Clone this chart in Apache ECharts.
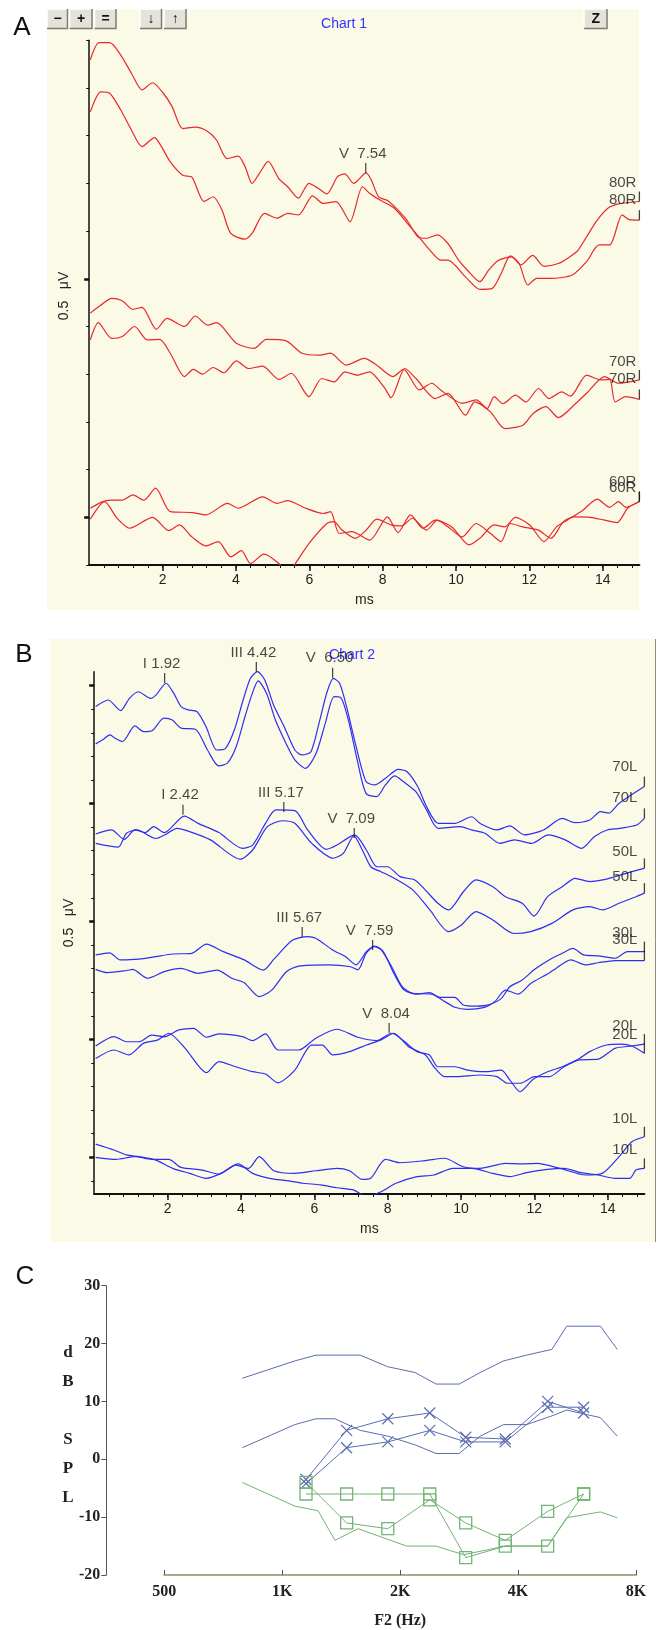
<!DOCTYPE html>
<html><head><meta charset="utf-8">
<script src="https://cdn.jsdelivr.net/npm/echarts@6/dist/echarts.min.js"></script>
<style>html,body{margin:0;padding:0;background:#fff;}#c{width:657px;height:1630px;}</style>
</head><body><div id="c"></div>
<script>
// ---------- Panel A : ABR right ear (ms, amplitude in 0.1 µV tick units) ----------
const A80R_1 = [[0.03,9.59],[0.27,9.95],[0.56,9.95],[0.86,9.69],[1.15,9.31],[1.44,8.96],[1.73,9.11],[2.02,8.89],[2.26,8.61],[2.55,8.15],[2.89,8.18],[3.23,8.09],[3.47,7.91],[3.76,7.52],[4.06,7.57],[4.25,7.35],[4.44,7.00],[4.64,7.21],[4.88,7.46],[5.17,7.10],[5.41,6.93],[5.70,6.69],[5.99,7.00],[6.24,6.90],[6.48,6.78],[6.77,7.14],[6.97,7.20],[7.21,7.00],[7.55,7.22],[7.69,7.07],[7.89,6.72],[8.13,6.64],[8.42,6.44],[8.66,6.23],[8.96,5.88],[9.20,5.85],[9.49,5.92],[9.78,5.74],[10.07,5.39],[10.31,5.18],[10.65,4.94],[10.89,5.18],[11.14,5.38],[11.52,5.46],[11.77,5.29],[12.09,5.49],[12.40,5.26],[12.79,5.32],[13.08,5.45],[13.32,5.59],[13.56,5.88],[13.85,6.23],[14.14,6.48],[14.43,6.57],[14.73,6.60],[15.00,6.62]];
const A80R_2 = [[0.03,8.50],[0.32,8.92],[0.56,8.89],[0.86,8.54],[1.15,8.12],[1.44,7.77],[1.78,7.96],[1.97,7.77],[2.21,7.45],[2.55,7.17],[2.80,7.13],[3.13,6.62],[3.38,6.72],[3.62,6.44],[3.86,5.95],[4.25,5.83],[4.44,5.95],[4.78,6.37],[5.12,6.27],[5.41,6.37],[5.71,6.34],[6.09,6.74],[6.38,6.58],[6.73,6.62],[7.11,6.20],[7.45,6.93],[7.65,6.79],[7.93,6.65],[8.32,6.48],[8.71,6.13],[9.00,5.87],[9.29,5.60],[9.58,5.39],[9.78,5.39],[10.26,5.04],[10.65,4.78],[10.99,4.80],[11.23,5.11],[11.48,5.48],[11.72,5.32],[11.96,4.87],[12.20,5.01],[12.59,5.01],[13.17,5.08],[13.56,5.36],[13.90,5.71],[14.19,5.71],[14.53,6.34],[14.72,6.24],[15.00,6.23]];
const A70R_1 = [[0.03,4.28],[0.32,4.45],[0.61,4.59],[0.90,4.54],[1.19,4.36],[1.44,4.40],[1.83,3.94],[2.12,4.17],[2.60,4.00],[2.89,4.22],[3.23,4.03],[3.47,4.08],[4.01,3.65],[4.49,3.54],[4.83,3.73],[5.37,3.70],[5.80,3.44],[6.29,3.40],[6.58,3.44],[7.00,3.19],[7.50,3.33],[7.84,3.19],[8.28,2.95],[8.57,3.10],[9.00,2.67],[9.34,2.81],[9.58,2.67],[10.17,2.39],[10.55,2.46],[10.85,2.28],[11.04,2.53],[11.28,2.38],[11.62,2.56],[11.91,2.42],[12.25,2.70],[12.54,2.49],[12.88,2.63],[13.12,2.54],[13.56,2.98],[13.95,2.88],[14.19,2.89],[14.34,2.42],[14.63,2.53],[15.00,2.47]];
const A70R_2 = [[0.03,3.72],[0.25,4.08],[0.61,3.75],[0.90,3.79],[1.24,4.00],[1.58,3.72],[1.92,3.73],[2.21,3.44],[2.60,2.95],[2.84,3.10],[3.09,3.00],[3.38,3.14],[3.67,3.03],[4.01,3.28],[4.35,3.12],[4.73,3.17],[5.17,2.89],[5.51,3.02],[5.99,2.53],[6.34,2.91],[6.68,2.84],[6.97,3.05],[7.31,2.98],[7.64,3.05],[8.03,2.74],[8.23,2.51],[8.61,3.12],[8.91,2.91],[9.44,2.49],[9.78,2.60],[10.26,2.14],[10.51,2.42],[10.94,2.21],[11.33,1.86],[11.82,1.93],[12.11,2.18],[12.45,2.32],[12.79,2.09],[13.27,2.39],[13.56,2.60],[14.05,2.95],[14.43,2.81],[15.00,2.88]];
const A60R_1 = [[0.03,0.19],[0.37,0.33],[0.66,0.36],[0.90,0.36],[1.19,0.47],[1.49,0.36],[1.81,0.61],[2.21,0.12],[2.80,0.10],[3.18,0.05],[3.77,0.29],[4.06,0.19],[4.73,0.43],[5.12,0.29],[5.41,0.35],[5.90,0.19],[6.38,0.08],[6.58,0.12],[6.82,-0.34],[7.16,-0.30],[7.65,-0.48],[8.13,0.01],[8.42,-0.32],[8.76,0.05],[9.10,-0.23],[9.44,-0.06],[9.88,-0.20],[10.36,-0.58],[10.65,-0.44],[11.04,-0.16],[11.33,-0.20],[11.62,0.00],[12.01,-0.16],[12.40,-0.51],[12.74,-0.20],[13.03,-0.06],[13.46,0.15],[13.85,0.38],[14.19,0.21],[14.43,0.33],[14.63,0.21],[15.00,0.33]];
const A60R_2 = [[0.03,-0.04],[0.42,0.33],[0.76,-0.02],[1.10,-0.23],[1.73,0.00],[2.17,-0.28],[2.46,-0.16],[2.80,-0.41],[3.18,-0.60],[3.52,-0.51],[3.86,-0.83],[4.15,-0.70],[4.40,-0.97],[4.76,-0.77],[5.17,-0.97],[5.40,-1.20],[5.62,-0.97],[5.99,-0.55],[6.48,-0.13],[6.68,-0.09],[6.87,-0.25],[7.26,-0.44],[7.55,-0.27],[7.84,-0.04],[8.23,-0.16],[8.52,-0.18],[8.81,-0.02],[9.20,-0.27],[9.49,-0.06],[9.78,-0.20],[10.17,-0.41],[10.55,-0.13],[10.94,-0.34],[11.23,-0.51],[11.48,-0.13],[11.82,-0.20],[12.25,-0.27],[12.59,-0.44],[12.93,-0.09],[13.22,0.01],[13.66,0.00],[14.05,-0.06],[14.39,-0.11],[14.68,0.19],[15.00,0.33]];
const A_traceLabels = [['80R',7.01],['80R',6.65],['70R',3.26],['70R',2.91],['60R',0.75],['60R',0.61]];
const A_peaks = [['V  7.54',7.54,7.22]];

// ---------- Panel B : ABR left ear ----------
const B70L_1 = [[0.04,19.11],[0.38,19.39],[0.72,18.94],[0.96,19.46],[1.20,19.74],[1.54,19.46],[1.69,19.61],[1.96,20.10],[2.17,19.67],[2.37,19.11],[2.56,18.97],[2.80,18.90],[3.05,18.26],[3.34,17.27],[3.58,17.34],[3.82,18.12],[4.06,19.39],[4.26,20.31],[4.45,20.59],[4.65,20.24],[4.89,19.18],[5.18,18.26],[5.47,17.27],[5.67,17.06],[5.91,17.20],[6.15,18.54],[6.35,19.74],[6.52,20.31],[6.69,20.10],[6.88,19.11],[7.12,17.55],[7.41,15.93],[7.65,15.79],[7.94,16.07],[8.29,16.45],[8.53,16.35],[8.82,15.72],[9.06,14.87],[9.38,14.16],[9.83,14.16],[10.29,14.44],[10.52,14.16],[10.98,13.88],[11.33,14.05],[11.73,13.67],[12.25,13.88],[12.76,14.37],[13.11,14.19],[13.51,14.30],[13.80,14.66],[14.03,14.59],[14.31,15.01],[15.00,15.72]];
const B70L_2 = [[0.04,17.53],[0.23,17.70],[0.43,17.91],[0.57,17.77],[0.77,17.63],[1.11,18.29],[1.35,18.05],[1.59,18.10],[1.90,18.62],[2.12,18.55],[2.37,18.20],[2.76,18.15],[3.09,17.27],[3.39,16.60],[3.63,16.71],[3.87,17.41],[4.11,18.68],[4.31,19.67],[4.47,20.20],[4.70,19.67],[4.94,18.54],[5.23,17.55],[5.47,16.85],[5.76,16.49],[6.05,17.13],[6.30,18.40],[6.54,19.53],[6.71,19.51],[6.93,18.54],[7.17,16.85],[7.41,15.43],[7.70,15.29],[7.94,15.79],[8.19,16.17],[8.43,15.93],[8.77,15.50],[9.06,14.73],[9.38,13.95],[9.98,14.02],[10.29,13.88],[10.65,13.74],[11.06,13.31],[11.46,13.46],[11.92,13.31],[12.38,13.67],[12.84,13.46],[13.29,13.10],[13.64,13.60],[13.98,13.88],[14.33,13.95],[14.79,14.09],[15.00,14.37]];
const B50L_1 = [[0.04,13.71],[0.47,13.88],[0.82,13.48],[1.11,13.88],[1.39,13.77],[1.62,14.02],[1.91,13.77],[2.46,14.47],[2.83,14.16],[3.40,13.77],[4.04,13.10],[4.32,13.24],[4.67,14.16],[4.95,14.73],[5.47,14.70],[5.82,13.88],[6.33,13.06],[6.62,13.24],[7.10,13.67],[7.42,13.03],[7.71,12.32],[8.00,12.32],[8.34,11.90],[8.74,11.76],[9.03,11.33],[9.37,10.77],[9.66,10.49],[10.07,11.27],[10.41,11.76],[10.87,11.47],[11.21,11.05],[11.67,10.77],[11.99,10.23],[12.36,11.05],[12.76,11.47],[13.11,11.83],[13.51,11.69],[13.86,11.76],[14.20,11.90],[14.66,12.11],[15.00,12.25]];
const B50L_2 = [[0.04,13.31],[0.65,13.15],[0.88,13.74],[1.16,13.88],[1.68,13.52],[1.97,13.71],[2.25,13.95],[2.60,13.81],[3.17,13.46],[3.98,12.64],[4.32,13.03],[4.72,14.02],[5.13,14.27],[5.47,14.16],[5.93,13.31],[6.51,12.68],[6.79,12.89],[7.08,13.63],[7.31,13.03],[7.54,12.32],[7.82,12.11],[8.23,11.79],[8.69,11.33],[9.15,10.49],[9.66,9.57],[10.01,9.85],[10.41,10.42],[10.87,10.06],[11.44,9.49],[11.90,9.57],[12.48,9.92],[13.05,10.49],[13.51,10.63],[13.86,10.49],[14.31,10.77],[14.77,11.05],[15.00,11.20]];
const B30L_1 = [[0.04,8.58],[0.42,8.67],[0.71,8.37],[1.22,8.40],[1.68,8.51],[2.14,8.62],[2.66,8.65],[3.06,9.04],[3.52,8.72],[4.09,8.37],[4.61,7.94],[4.90,8.40],[5.41,9.21],[5.82,9.36],[6.04,9.29],[6.50,8.79],[6.85,8.51],[7.14,8.16],[7.42,8.72],[7.65,8.96],[7.88,8.72],[8.17,7.80],[8.45,7.09],[8.80,6.92],[9.14,6.98],[9.43,6.78],[9.83,6.78],[10.06,6.46],[10.41,6.41],[10.75,6.46],[11.10,6.74],[11.33,7.23],[11.67,7.52],[12.01,7.97],[12.48,8.44],[12.76,8.65],[13.05,8.86],[13.34,8.58],[13.74,8.54],[14.20,8.44],[14.54,8.72],[15.00,8.72]];
const B30L_2 = [[0.04,7.97],[0.36,7.83],[0.89,7.92],[1.05,7.97],[1.45,7.59],[1.91,7.87],[2.37,8.01],[2.83,7.80],[3.35,7.94],[3.75,7.59],[4.09,7.40],[4.50,6.81],[4.84,7.09],[5.24,7.87],[5.58,8.11],[6.39,8.16],[6.96,8.09],[7.19,7.95],[7.42,8.67],[7.64,8.93],[7.82,8.81],[8.11,8.08],[8.40,7.23],[8.69,6.95],[9.20,6.92],[9.49,6.67],[9.83,6.36],[10.18,6.27],[10.64,6.36],[10.92,6.60],[11.21,7.09],[11.56,6.92],[11.91,7.38],[12.36,7.77],[12.59,8.01],[12.99,8.37],[13.39,8.16],[13.74,8.25],[14.20,8.34],[15.00,8.34]];
const B20L_1 = [[0.04,4.72],[0.54,5.12],[0.88,4.90],[1.22,4.90],[1.57,5.18],[1.91,5.11],[2.31,5.40],[2.71,5.47],[3.06,5.09],[3.40,5.23],[4.04,5.12],[4.32,4.95],[4.67,5.23],[5.01,4.55],[5.58,4.55],[6.04,5.05],[6.62,5.43],[7.19,5.09],[7.71,4.95],[8.11,5.26],[8.40,4.98],[8.80,4.48],[9.14,4.34],[9.37,3.84],[9.83,3.84],[10.18,3.70],[10.64,3.63],[11.10,3.70],[11.33,3.28],[11.61,2.78],[11.96,3.30],[12.36,3.63],[12.76,3.84],[13.17,4.13],[13.51,4.48],[13.97,4.76],[14.37,4.80],[14.66,4.72],[15.00,4.41]];
const B20L_2 = [[0.04,4.19],[0.54,4.55],[0.94,4.34],[1.34,4.83],[1.74,4.98],[2.03,5.26],[2.48,4.62],[3.06,3.59],[3.40,4.06],[3.86,3.84],[4.32,3.63],[4.67,3.53],[5.01,3.16],[5.47,3.70],[5.93,4.76],[6.22,4.76],[6.50,4.34],[6.96,4.48],[7.42,4.76],[7.82,4.98],[8.17,5.26],[8.57,4.69],[9.03,4.34],[9.26,3.84],[9.55,3.42],[9.89,3.42],[10.52,3.49],[10.98,3.42],[11.27,3.14],[11.61,3.14],[12.01,3.42],[12.41,3.42],[12.81,3.84],[13.22,4.13],[13.74,4.16],[14.20,4.62],[14.66,4.72],[15.00,4.80]];
const B10L_1 = [[0.04,0.56],[0.54,0.31],[0.88,0.10],[1.22,0.03],[1.68,-0.12],[2.14,-0.47],[2.60,-0.68],[3.06,-0.89],[3.46,-0.68],[3.86,-0.33],[4.21,-0.47],[4.50,0.03],[4.90,-0.57],[5.47,-0.68],[6.04,-0.57],[6.62,-0.47],[6.96,-0.57],[7.31,-0.94],[7.54,-0.89],[7.94,-0.09],[8.34,-0.23],[9.03,-0.14],[9.55,-0.04],[10.06,-0.40],[10.52,-0.47],[11.21,-0.26],[11.67,-0.28],[12.07,-0.26],[12.70,-0.47],[13.39,-0.75],[13.85,-0.68],[14.31,0.03],[14.66,0.66],[15.00,0.87]];
const B10L_2 = [[0.04,0.00],[0.59,-0.09],[1.11,0.03],[1.57,-0.09],[2.03,-0.09],[2.37,-0.43],[2.94,-0.54],[3.40,-0.71],[3.92,-0.28],[4.32,-0.68],[4.78,-0.89],[5.24,-0.99],[5.70,-1.10],[6.16,-1.17],[6.62,-1.29],[7.08,-1.39],[7.42,-1.67],[7.82,-1.46],[8.23,-1.10],[8.80,-0.82],[9.26,-0.75],[9.78,-0.47],[10.29,-0.47],[10.86,-0.68],[11.33,-0.82],[11.79,-0.65],[12.36,-0.51],[12.81,-0.47],[13.27,-0.65],[13.74,-0.75],[14.20,-0.89],[14.60,-0.89],[14.77,-0.54],[15.00,-0.47]];
const B_traceLabels = [['70L',16.56],['70L',15.22],['50L',12.96],['50L',11.90],['30L',9.50],['30L',9.22],['20L',5.57],['20L',5.19],['10L',1.65],['10L',0.31]];
const B_peaks = [['I 1.92',1.92,20.11],['III 4.42',4.42,20.58],['V  6.50',6.50,20.33],['I 2.42',2.42,14.52],['III 5.17',5.17,14.64],['V  7.09',7.09,13.54],['III 5.67',5.67,9.34],['V  7.59',7.59,8.79],['V  8.04',8.04,5.27]];

// ---------- Panel C : DP-gram ----------
const C_freqs = [1150,1460,1860,2380,2940,3710,4760,5880];
const C_cross1 = [-3.5,5,7,8,3.8,3.5,10,8];
const C_cross2 = [-4.2,2,3,5,3,3,9,9];
const C_square1 = [-6,-6,-6,-6,-17,-15,-15,-6];
const C_square2 = [-4,-11,-12,-7,-11,-14,-9,-6];
const C_normUpper = [[791,14],[1077,17],[1220,18],[1581,18],[1858,16],[2182,15],[2470,13],[2830,13],[3203,15],[3672,17],[4206,18],[4881,19],[5322,23],[6489,23],[7164,19]];
const C_normLower = [[791,2],[1077,6],[1220,7],[1363,7],[1581,5],[1858,4],[2182,2.5],[2470,1],[2830,1],[3203,4],[3672,6],[4206,6],[4881,7.5],[5322,8.5],[6489,7.2],[7164,4]];
const C_noise = [[791,-4],[1077,-8.1],[1235,-8.9],[1363,-14],[1562,-12],[2077,-15],[2470,-15],[2902,-16.5],[3716,-15],[4761,-15],[5322,-10.1],[6489,-9.1],[7164,-10.1]];
const C_xTickLabels = ['500','1K','2K','4K','8K'];

// ---------------------------------------------------
const SANS = "'Liberation Sans', Arial, sans-serif";
const SERIF = "'Liberation Serif', 'DejaVu Serif', serif";
const RED = '#e8282b', BLUE = '#2e2ef2', CBLUE = '#5a6db0', CGREEN = '#74b474';
const minorX = []; for (let i = 1; i <= 37; i++) minorX.push(+(i * 0.4).toFixed(1));
const majorX = [2,4,6,8,10,12,14];
const oct = f => Math.log2(f / 500);

function traceSeries(data, xi, color) {
  return {type:'line', xAxisIndex:xi, yAxisIndex:xi, data:data, showSymbol:false, smooth:0.25,
    lineStyle:{color:color, width:1.2}, silent:true, z:3};
}
function labelSeries(list, xi, xEnd, dist) {
  return {type:'scatter', xAxisIndex:xi, yAxisIndex:xi, symbolSize:0, silent:true, z:5,
    data:list.map(d => ({value:[xEnd, d[1]], name:d[0]})),
    label:{show:true, position:'left', distance:dist, formatter:p => p.name, color:'#1a1a1a', fontFamily:SANS, fontSize:15}};
}
// small vertical end-of-trace markers, placed on the last sample of each trace
function endMarkSeries(traces, xi) {
  return {type:'scatter', xAxisIndex:xi, yAxisIndex:xi, symbol:'rect', symbolSize:[1.3,10], symbolOffset:[0,-5],
    itemStyle:{color:'#111'}, silent:true, z:6, clip:false,
    data:traces.map(t => t[t.length - 1])};
}
function peakSeries(list, xi) {
  return {type:'scatter', xAxisIndex:xi, yAxisIndex:xi, symbol:'rect', symbolSize:[1.2,10], symbolOffset:[0,-5],
    itemStyle:{color:'#111'}, silent:true, z:6,
    data:list.map(d => ({value:[d[1], d[2]], name:d[0]})),
    label:{show:true, position:'top', distance:2, offset:[-3,0], formatter:p => p.name, color:'#1a1a1a', fontFamily:SANS, fontSize:15}};
}
function minorX_axis(gi) {
  return {type:'value', gridIndex:gi, position:'bottom', min:0, max:15,
    axisLine:{onZero:false, lineStyle:{color:'#111', width:2}}, splitLine:{show:false},
    axisTick:{customValues:minorX, length:3, lineStyle:{color:'#111', width:1}},
    axisLabel:{show:false}};
}
function majorX_axis(gi) {
  return {type:'value', gridIndex:gi, position:'bottom', min:0, max:15, name:'ms', nameLocation:'middle', nameGap:28,
    nameTextStyle:{color:'#222', fontFamily:SANS, fontSize:14},
    axisLine:{show:false, onZero:false}, splitLine:{show:false},
    axisTick:{customValues:majorX, length:6, lineStyle:{color:'#111', width:1.5}},
    axisLabel:{customValues:majorX, color:'#222', fontFamily:SANS, fontSize:14, margin:8}};
}
function minorY_axis(gi, mn, mx, vals) {
  return {type:'value', gridIndex:gi, position:'left', min:mn, max:mx,
    axisLine:{show:true, onZero:false, lineStyle:{color:'#111', width:1.5}}, splitLine:{show:false},
    axisTick:{customValues:vals, length:3, lineStyle:{color:'#111', width:1}},
    axisLabel:{show:false}};
}
function majorY_axis(gi, mn, mx, vals) {
  return {type:'value', gridIndex:gi, position:'left', min:mn, max:mx,
    axisLine:{show:false, onZero:false}, splitLine:{show:false},
    axisTick:{customValues:vals, length:5, lineStyle:{color:'#111', width:2.5}},
    axisLabel:{show:false}};
}
const yTicksA = []; for (let i = -1; i <= 10; i++) yTicksA.push(i);
const yTicksB = []; for (let i = -1; i <= 20; i++) yTicksB.push(i);

function button(x, y, w, h, txt) {
  return {type:'group', x:x, y:y, z:1, children:[
    {type:'rect', shape:{x:0, y:0, width:w, height:h}, style:{fill:'#e4e3da'}},
    {type:'polyline', shape:{points:[[0,h],[0,0],[w,0]]}, style:{stroke:'#ffffff', lineWidth:1.5, fill:null}},
    {type:'polyline', shape:{points:[[0,h-0.5],[w-0.5,h-0.5],[w-0.5,0]]}, style:{stroke:'#7d7d78', lineWidth:1.5, fill:null}},
    {type:'text', x:w/2, y:h/2, style:{text:txt, fill:'#111', font:'bold 14px ' + SANS, align:'center', verticalAlign:'middle'}}
  ]};
}

const A_traces = [A80R_1, A80R_2, A70R_1, A70R_2, A60R_1, A60R_2];
const B_traces = [B70L_1, B70L_2, B50L_1, B50L_2, B30L_1, B30L_2, B20L_1, B20L_2, B10L_1, B10L_2];
const series = [];
A_traces.forEach(d => series.push(traceSeries(d, 0, RED)));
series.push(labelSeries(A_traceLabels, 0, 15, 3));
series.push(endMarkSeries(A_traces, 0));
series.push(peakSeries(A_peaks, 0));
B_traces.forEach(d => series.push(traceSeries(d, 2, BLUE)));
series.push(labelSeries(B_traceLabels, 2, 15, 7));
series.push(endMarkSeries(B_traces, 2));
series.push(peakSeries(B_peaks, 2));

const cLine = (data, color, extra) => Object.assign({type:'line', xAxisIndex:4, yAxisIndex:4, data:data, silent:true,
  lineStyle:{color:color, width:1}, showSymbol:false, z:3}, extra || {});
series.push(cLine(C_normUpper.map(p => [oct(p[0]), p[1]]), CBLUE));
series.push(cLine(C_normLower.map(p => [oct(p[0]), p[1]]), CBLUE));
series.push(cLine(C_noise.map(p => [oct(p[0]), p[1]]), CGREEN));
const crossSym = 'path://M0,0L10,10M10,0L0,10';
[C_cross1, C_cross2].forEach(vals => series.push(cLine(C_freqs.map((f,i) => [oct(f), vals[i]]), CBLUE,
  {showSymbol:true, symbol:crossSym, symbolSize:11, itemStyle:{color:'rgba(0,0,0,0)', borderColor:CBLUE, borderWidth:1.2}})));
[C_square1, C_square2].forEach(vals => series.push(cLine(C_freqs.map((f,i) => [oct(f), vals[i]]), CGREEN,
  {showSymbol:true, symbol:'rect', symbolSize:12, itemStyle:{color:'rgba(255,255,255,0)', borderColor:CGREEN, borderWidth:1.3}})));

const option = {
  animation:false,
  backgroundColor:'#ffffff',
  grid:[
    {left:89.2, top:40.3, width:550.2, height:524.7},
    {left:94.2, top:671.7, width:550.2, height:522.3},
    {left:164.3, top:1285.7, width:471.7, height:293.3}
  ],
  xAxis:[
    minorX_axis(0), majorX_axis(0), minorX_axis(1), majorX_axis(1),
    {type:'value', gridIndex:2, position:'bottom', min:0, max:4, interval:1,
      axisLine:{onZero:false, lineStyle:{color:'#a8ae7e', width:2}}, splitLine:{show:false},
      axisTick:{inside:true, length:5, lineStyle:{color:'#555'}},
      axisLabel:{formatter:v => C_xTickLabels[Math.round(v)], color:'#222', fontFamily:SERIF, fontWeight:'bold', fontSize:16, margin:9},
      name:'F2 (Hz)', nameLocation:'middle', nameGap:38, nameTextStyle:{color:'#222', fontFamily:SERIF, fontWeight:'bold', fontSize:16}}
  ],
  yAxis:[
    minorY_axis(0, -1, 10, yTicksA), majorY_axis(0, -1, 10, [0,5]),
    minorY_axis(1, -1.556, 20.59, yTicksB), majorY_axis(1, -1.556, 20.59, [0,5,10,15,20]),
    {type:'value', gridIndex:2, position:'left', min:-20, max:30, interval:10, offset:58,
      axisLine:{show:true, onZero:false, lineStyle:{color:'#555', width:1}}, splitLine:{show:false},
      axisTick:{length:5, lineStyle:{color:'#555'}},
      axisLabel:{color:'#222', fontFamily:SERIF, fontWeight:'bold', fontSize:16, margin:6}}
  ],
  series:series,
  graphic:[
    {type:'rect', z:-10, shape:{x:47, y:9, width:592, height:601}, style:{fill:'#fbfae6'}},
    {type:'rect', z:-10, shape:{x:50, y:639, width:606, height:603}, style:{fill:'#fbfae6'}},
    {type:'line', z:-9, shape:{x1:655.5, y1:639, x2:655.5, y2:1242}, style:{stroke:'#8a8a8a', lineWidth:1}},
    button(47, 9, 21, 20, '−'), button(69.5, 9, 23, 20, '+'), button(94.5, 9, 22, 20, '='),
    button(140, 9, 22, 20, '↓'), button(164, 9, 22.5, 20, '↑'), button(584, 9, 23.5, 20, 'Z'),
    {type:'text', x:344, y:24, style:{text:'Chart 1', fill:'#3333ff', font:'14px ' + SANS, align:'center', verticalAlign:'middle'}},
    {type:'text', x:352, y:655, z:1, style:{text:'Chart 2', fill:'#3333ff', font:'14px ' + SANS, align:'center', verticalAlign:'middle'}},
    {type:'text', x:64.5, y:296, rotation:Math.PI/2, style:{text:'0.5   μV', fill:'#222', font:'14px ' + SANS, align:'center', verticalAlign:'middle'}},
    {type:'text', x:69.5, y:923, rotation:Math.PI/2, style:{text:'0.5   μV', fill:'#222', font:'14px ' + SANS, align:'center', verticalAlign:'middle'}},
    {type:'text', x:22, y:28, style:{text:'A', fill:'#111', font:'26px ' + SANS, align:'center', verticalAlign:'middle'}},
    {type:'text', x:24, y:655, style:{text:'B', fill:'#111', font:'26px ' + SANS, align:'center', verticalAlign:'middle'}},
    {type:'text', x:25, y:1277, style:{text:'C', fill:'#111', font:'26px ' + SANS, align:'center', verticalAlign:'middle'}},
    {type:'text', x:68, y:1425.5, style:{text:'d\nB\n\nS\nP\nL', fill:'#222', font:'bold 17px ' + SERIF, lineHeight:29, align:'center', verticalAlign:'middle'}}
  ]
};
const chart = echarts.init(document.getElementById('c'));
chart.setOption(option);
</script>
</body></html>
